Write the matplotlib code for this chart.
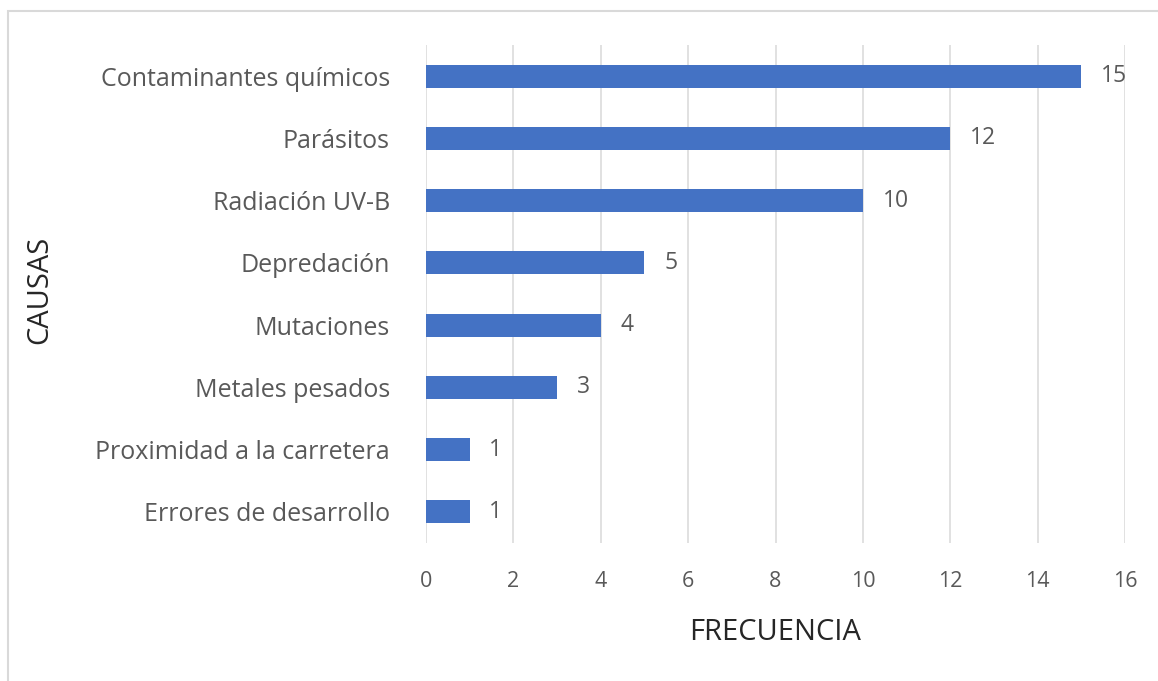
import numpy as np
import matplotlib.pyplot as plt
from matplotlib.patches import Rectangle

# %% data
causas = ['Contaminantes químicos', 'Parásitos', 'Radiación UV-B', 'Depredación',
          'Mutaciones', 'Metales pesados', 'Proximidad a la carretera', 'Errores de desarrollo']
frecuencia = [15, 12, 10, 5, 4, 3, 1, 1]
x_ticks = [0, 2, 4, 6, 8, 10, 12, 14, 16]

bar_color = '#4472C4'
text_color = '#595959'
plt.rcParams['font.family'] = ['Open Sans', 'DejaVu Sans']

# %% plotting
fig = plt.figure(figsize=(11.58, 6.81), dpi=100)
ax = fig.add_axes([426/1158, 138/681, 699/1158, 498/681])

y_pos = np.arange(len(causas))
ax.barh(y_pos, frecuencia, height=0.37, color=bar_color, zorder=3)
ax.set_ylim(len(causas) - 0.5, -0.5)
ax.set_xlim(0, 16)
ax.set_xticks(x_ticks)
ax.set_xticklabels([str(t) for t in x_ticks], color=text_color, fontsize=15.5)
ax.set_yticks(y_pos)
ax.set_yticklabels(causas, color=text_color, fontsize=18)
ax.tick_params(axis='x', length=0, pad=20)
ax.tick_params(axis='y', length=0, pad=26)
ax.grid(axis='x', color='#d9d9d9', linewidth=1.1, zorder=0)
for s in ax.spines.values():
    s.set_visible(False)

for y, v in zip(y_pos, frecuencia):
    ax.text(v + 0.45, y, str(v), va='center', ha='left', color=text_color, fontsize=16.5)

ax.set_xlabel('FRECUENCIA', fontsize=21, color='#262626', labelpad=19)
fig.text(40/1158, 1 - 290/681, 'CAUSAS', rotation=90, va='center', ha='center',
         fontsize=21, color='#262626')

# light frame around the chart
fig.patches.append(Rectangle((8/1158, -0.1), 1.2, 1 - 11/681 + 0.1, transform=fig.transFigure,
                             fill=False, edgecolor='#d9d9d9', linewidth=1.5))

plt.savefig('out.png', dpi=100)
